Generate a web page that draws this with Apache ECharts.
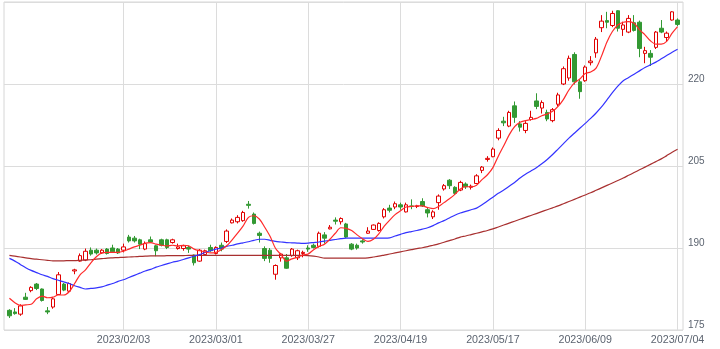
<!DOCTYPE html>
<html><head><meta charset="utf-8">
<script src="https://cdn.jsdelivr.net/npm/echarts@6/dist/echarts.min.js"></script>
<style>html,body{margin:0;padding:0;background:#fff}#c{width:720px;height:349px}</style>
</head><body><div id="c"></div>
<script>
const dates = [
'2023/01/04','2023/01/05','2023/01/06','2023/01/10','2023/01/11','2023/01/12','2023/01/13',
'2023/01/16','2023/01/17','2023/01/18','2023/01/19','2023/01/20',
'2023/01/23','2023/01/24','2023/01/25','2023/01/26','2023/01/27','2023/01/30','2023/01/31',
'2023/02/01','2023/02/02','2023/02/03','2023/02/06','2023/02/07','2023/02/08','2023/02/09','2023/02/10',
'2023/02/13','2023/02/14','2023/02/15','2023/02/16','2023/02/17','2023/02/20','2023/02/21','2023/02/22','2023/02/24',
'2023/02/27','2023/02/28','2023/03/01','2023/03/02','2023/03/03','2023/03/06','2023/03/07','2023/03/08','2023/03/09','2023/03/10',
'2023/03/13','2023/03/14','2023/03/15','2023/03/16','2023/03/17','2023/03/20','2023/03/22','2023/03/23','2023/03/24',
'2023/03/27','2023/03/28','2023/03/29','2023/03/30','2023/03/31','2023/04/03','2023/04/04','2023/04/05','2023/04/06','2023/04/07',
'2023/04/10','2023/04/11','2023/04/12','2023/04/13','2023/04/14','2023/04/17','2023/04/18','2023/04/19','2023/04/20','2023/04/21',
'2023/04/24','2023/04/25','2023/04/26','2023/04/27','2023/04/28','2023/05/01','2023/05/02','2023/05/08','2023/05/09','2023/05/10',
'2023/05/11','2023/05/12','2023/05/15','2023/05/16','2023/05/17','2023/05/18','2023/05/19','2023/05/22','2023/05/23','2023/05/24',
'2023/05/25','2023/05/26','2023/05/29','2023/05/30','2023/05/31','2023/06/01','2023/06/02','2023/06/05','2023/06/06','2023/06/07',
'2023/06/08','2023/06/09','2023/06/12','2023/06/13','2023/06/14','2023/06/15','2023/06/16','2023/06/19','2023/06/20','2023/06/21',
'2023/06/22','2023/06/23','2023/06/26','2023/06/27','2023/06/28','2023/06/29','2023/06/30','2023/07/03','2023/07/04'];
const labelDates = ['2023/02/03','2023/03/01','2023/03/27','2023/04/19','2023/05/17','2023/06/09','2023/07/04'];
const yTicks = [175, 190, 205, 220];

const opens = [178.6,178.3,177.9,181.0,182.2,183.4,182.5,178.5,179.2,181.5,183.4,182.1,185.8,187.6,187.8,189.6,189.6,189.1,189.8,190.0,
189.8,189.6,192.0,191.8,191.5,189.8,191.5,190.4,191.5,191.5,191.0,189.9,189.9,190.1,188.7,187.6,188.8,190.1,189.0,190.5,
191.2,194.6,194.8,195.0,198.0,196.2,192.7,189.9,189.6,185.2,188.2,188.2,188.6,188.2,189.0,190.0,190.5,190.3,192.4,193.5,
195.1,194.8,194.4,190.7,190.5,191.3,192.7,193.4,193.2,195.7,197.3,197.5,197.9,196.6,197.7,197.6,198.5,197.0,195.7,198.3,
200.8,202.4,201.1,200.6,201.7,201.1,201.8,204.2,206.2,206.7,210.1,213.2,212.3,216.0,212.7,211.5,213.5,216.9,215.6,214.8,
213.3,216.3,220.0,221.1,225.4,220.4,220.6,223.9,225.7,230.3,231.6,230.7,233.4,230.0,229.5,231.2,231.3,225.6,225.6,226.7,
230.2,228.5,231.7,231.7];
const closes = [177.6,178.0,179.4,180.6,182.8,182.6,180.4,178.3,180.7,185.1,182.3,183.5,186.0,188.6,189.4,188.9,189.1,189.6,189.0,189.3,
189.1,190.2,191.3,191.3,190.7,190.8,191.1,189.5,190.5,190.1,191.5,190.2,190.4,189.8,187.3,189.6,189.5,189.5,190.1,189.8,
193.1,195.1,195.6,196.5,197.8,194.5,192.3,188.1,188.1,186.8,188.9,186.3,189.8,189.5,189.2,189.8,190.1,192.7,191.8,193.8,
194.9,195.4,192.0,189.8,190.0,191.1,193.1,194.2,194.5,197.0,196.9,198.1,197.5,197.9,197.6,197.7,197.7,196.4,196.6,199.5,
201.4,201.4,200.0,202.0,201.2,201.3,203.2,204.8,206.4,208.1,211.5,212.9,214.8,213.9,212.1,212.8,213.9,215.9,216.6,213.6,
215.3,218.0,222.8,224.7,220.4,218.6,223.1,224.2,228.2,231.5,231.3,232.9,230.2,230.8,232.0,229.8,226.5,226.1,224.9,229.5,
229.5,229.3,233.2,230.9];
const lows = [177.2,177.8,177.6,180.5,181.9,182.3,180.2,177.9,178.9,181.4,182.1,181.9,185.2,187.5,187.6,188.6,188.8,188.9,188.8,189.1,
188.9,189.2,191.0,191.0,189.8,189.6,190.9,188.5,190.3,189.8,190.8,189.7,189.5,189.1,186.8,187.5,188.6,189.3,188.8,189.4,
190.9,194.5,194.5,194.8,197.2,194.3,191.0,187.6,187.3,184.2,187.5,186.2,188.4,187.8,188.3,189.3,189.9,190.1,190.8,193.4,
194.3,194.3,191.8,189.6,189.7,190.8,192.6,193.3,193.0,195.4,196.5,197.1,197.0,196.5,197.1,197.3,197.5,195.6,195.3,197.0,
200.5,200.8,199.7,200.4,200.8,200.7,201.7,203.7,205.8,206.6,209.7,212.3,212.1,212.9,211.3,211.0,213.3,215.4,214.6,213.2,
213.0,215.9,219.8,220.6,219.9,217.3,220.4,223.4,224.8,229.5,230.2,230.4,229.6,228.8,229.3,229.6,224.9,223.8,223.3,226.4,
229.3,227.7,231.6,230.6];
const highs = [178.8,179.0,179.7,181.8,183.0,183.6,182.6,179.2,181.0,185.6,183.6,183.7,186.2,189.0,189.9,190.1,189.9,189.8,190.0,190.6,
190.0,190.8,192.4,192.2,191.7,191.2,192.1,190.6,191.7,191.7,191.7,190.8,190.6,190.4,188.8,189.8,189.7,190.6,190.3,191.0,
193.4,195.4,196.0,196.8,198.6,196.5,193.0,190.3,190.0,187.0,189.1,188.9,190.0,189.7,189.5,190.5,190.8,193.0,192.9,194.2,
195.6,195.6,194.6,190.9,190.8,191.6,193.8,194.3,194.7,197.3,197.9,198.5,198.3,198.3,198.9,197.9,199.1,197.5,196.9,199.8,
201.7,202.6,201.3,202.3,202.0,201.6,203.5,205.0,206.8,208.4,211.9,214.0,215.1,216.8,213.2,213.2,215.1,218.3,217.0,215.3,
215.6,218.4,223.2,225.2,225.8,220.8,223.4,225.1,228.6,232.6,233.2,233.4,233.5,231.4,232.6,232.6,231.6,226.8,226.2,229.7,
231.7,229.6,233.3,232.0];

const ma5 = [180.8,180.0,179.5,179.6,179.7,180.7,181.2,180.9,181.0,181.4,181.4,182.0,183.5,185.1,186.0,187.3,188.4,189.1,189.2,189.2,
189.2,189.4,189.8,190.2,190.5,190.9,191.0,190.7,190.5,190.4,190.5,190.4,190.5,190.4,189.8,189.5,189.3,189.1,189.2,189.7,
190.4,191.5,192.7,194.0,195.6,195.9,195.3,193.8,192.1,189.9,188.8,187.6,188.0,188.3,188.7,188.9,189.7,190.3,190.7,191.6,
192.7,193.7,193.6,193.2,192.4,191.7,191.2,191.6,192.6,194.0,195.1,196.1,196.8,197.5,197.6,197.7,197.7,197.4,197.2,197.6,
198.3,199.0,199.8,200.8,201.2,201.2,201.5,202.5,203.4,204.7,206.8,208.7,210.7,212.2,213.0,213.3,213.5,213.7,214.2,214.5,
215.0,215.9,217.2,218.9,220.2,220.9,221.9,222.2,222.9,225.1,227.7,229.6,230.8,231.3,231.4,231.1,229.9,229.0,227.9,227.3,
227.3,227.8,229.3,230.5];
const ma25 = [188.1,187.6,187.0,186.4,185.9,185.5,185.1,184.8,184.4,184.1,183.8,183.5,183.1,182.8,182.5,182.6,182.7,182.9,183.2,183.5,
183.9,184.2,184.6,185.0,185.4,185.8,186.1,186.5,186.8,187.1,187.4,187.6,187.9,188.2,188.5,188.8,189.2,189.5,189.8,190.0,
190.3,190.5,190.75,190.95,191.15,191.4,191.6,191.6,191.4,191.2,191.1,191.0,190.95,190.9,190.85,190.9,191.0,191.1,191.25,191.4,
191.55,191.7,191.8,191.8,191.8,191.8,191.8,191.8,191.8,191.8,191.85,192.2,192.5,192.8,193.0,193.2,193.45,193.7,194.1,194.6,
195.0,195.5,196.0,196.4,196.7,197.0,197.3,197.9,198.6,199.3,200.0,200.6,201.3,202.0,202.8,203.5,204.1,204.7,205.4,206.2,
207.1,208.1,209.1,210.1,211.0,211.9,212.8,213.7,214.7,215.8,217.1,218.4,219.6,220.6,221.2,221.8,222.4,223.0,223.5,224.0,
224.6,225.2,225.8,226.35];
const ma75 = [188.65,188.5,188.35,188.2,188.05,187.95,187.85,187.75,187.65,187.65,187.65,187.7,187.7,187.75,187.8,187.85,187.95,188.05,188.15,188.2,
188.25,188.3,188.35,188.4,188.45,188.5,188.55,188.55,188.55,188.6,188.6,188.6,188.6,188.65,188.65,188.65,188.65,188.65,188.65,188.65,
188.65,188.65,188.65,188.65,188.65,188.65,188.65,188.65,188.65,188.65,188.65,188.65,188.65,188.65,188.65,188.6,188.5,188.35,188.15,188.15,
188.15,188.15,188.15,188.15,188.15,188.15,188.2,188.35,188.5,188.7,188.9,189.1,189.3,189.5,189.7,189.9,190.05,190.25,190.5,190.75,
191.05,191.35,191.65,192.0,192.2,192.45,192.7,192.95,193.2,193.5,193.85,194.2,194.55,194.9,195.25,195.6,195.95,196.3,196.65,197.0,
197.35,197.7,198.1,198.5,198.9,199.3,199.7,200.1,200.55,201.0,201.45,201.9,202.35,202.8,203.3,203.8,204.3,204.8,205.3,205.8,
206.3,206.9,207.5,208.05];

const cats = [' ', ...dates, '  '];
const candleData = ['-'].concat(dates.map((d, i) => [opens[i], closes[i], lows[i], highs[i]])).concat(['-']);
const padLine = a => [null, ...a, null];
const isLabel = (idx, val) => labelDates.indexOf(val) >= 0;

const chart = echarts.init(document.getElementById('c'), null, {renderer: 'canvas'});
chart.setOption({
  animation: false,
  backgroundColor: '#ffffff',
  grid: {left: 4, right: 37, top: 2, bottom: 19, show: true, borderColor: '#d6d6d6', borderWidth: 1, backgroundColor: 'transparent'},
  xAxis: {
    type: 'category', data: cats, boundaryGap: false,
    axisLine: {show: false}, axisTick: {show: false},
    axisLabel: {interval: isLabel, color: '#5c6470', fontSize: 10.7, fontFamily: 'Liberation Sans, Arial, sans-serif', margin: 5},
    splitLine: {show: true, interval: isLabel, lineStyle: {color: '#dcdcdc', width: 1}}
  },
  yAxis: {
    type: 'value', position: 'right', min: 175, max: 235, interval: 15, scale: true,
    axisLine: {show: false}, axisTick: {show: false},
    axisLabel: {formatter: v => yTicks.indexOf(v) >= 0 ? String(v) : '', color: '#5c6470', fontSize: 10,
      fontFamily: 'Liberation Sans, Arial, sans-serif', verticalAlign: 'bottom', margin: 5},
    splitLine: {show: true, lineStyle: {color: '#dcdcdc', width: 1}}
  },
  series: [
    {type: 'candlestick', data: candleData, barWidth: 4,
      itemStyle: {color: '#ffffff', color0: '#339933', borderColor: '#e00000', borderColor0: '#339933', borderWidth: 1}},
    {type: 'line', data: padLine(ma75), symbol: 'none', smooth: 0.3, lineStyle: {color: '#a83030', width: 1.2}, z: 3},
    {type: 'line', data: padLine(ma25), symbol: 'none', smooth: 0.3, lineStyle: {color: '#3333ff', width: 1.2}, z: 3},
    {type: 'line', data: padLine(ma5), symbol: 'none', smooth: 0.3, lineStyle: {color: '#ff2a2a', width: 1.2}, z: 4}
  ]
});
</script></body></html>
